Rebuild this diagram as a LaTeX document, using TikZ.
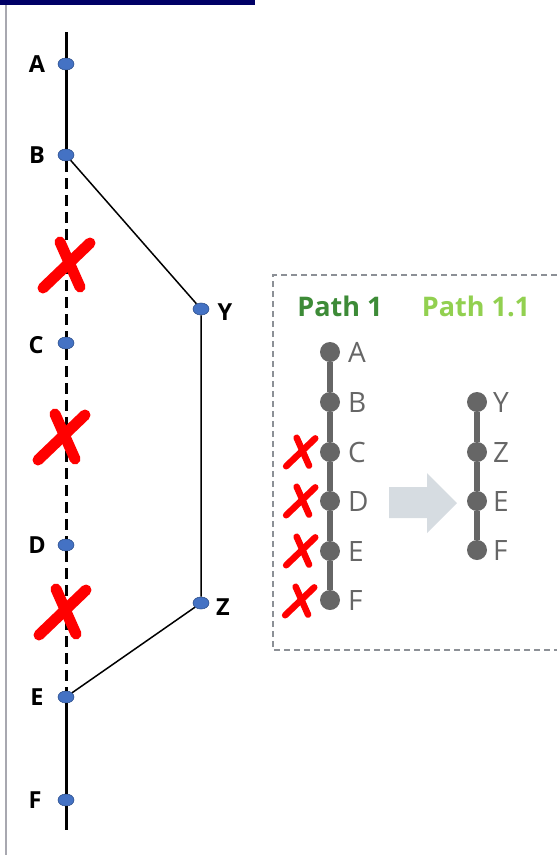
\documentclass[tikz,border=0pt]{standalone}
\usepackage{fontspec}
\newfontfamily\osans{Open Sans}
\usetikzlibrary{shapes.geometric}
\definecolor{navy}{RGB}{0,0,102}
\definecolor{dotblue}{HTML}{4472C4}
\definecolor{dotedge}{HTML}{2F528F}
\definecolor{pathgrey}{HTML}{666666}
\definecolor{darkgreen}{HTML}{3D8B37}
\definecolor{lightgreen}{HTML}{92D050}
\definecolor{arrowgrey}{HTML}{D6DCE1}
\definecolor{boxgrey}{HTML}{8C9096}
\definecolor{leftgrey}{HTML}{A8A8B0}
\definecolor{xred}{HTML}{FF0000}
\begin{document}
\begin{tikzpicture}[x=1pt,y=-1pt,
 bluedot/.style={ellipse, fill=dotblue, draw=dotedge, line width=0.6pt, minimum width=16pt, minimum height=12pt, inner sep=0},
 greydot/.style={circle, fill=pathgrey, minimum size=20pt, inner sep=0},
 lbl/.style={font=\osans\bfseries\fontsize{23.5}{28}\selectfont, inner sep=0, text=black},
 glbl/.style={font=\osans\fontsize{28}{32}\selectfont, text=pathgrey, inner sep=0, anchor=west},
 ptitle/.style={font=\osans\bfseries\fontsize{27}{32}\selectfont, inner sep=0},
 mainline/.style={line width=3pt, black},
 thinline/.style={line width=1.5pt, black},
 greyline/.style={line width=6pt, pathgrey},
 xstroke/.style={xred, line cap=round},
 redx/.pic={\draw[xstroke] (-24,23) -- (23,-22); \draw[xstroke] (-7,-23) -- (13,22);}
]
\useasboundingbox (0,0) rectangle (557,855);
% frame pieces
\fill[navy] (0,0) rectangle (255,4.5);
\draw[leftgrey, line width=2pt] (6,5) -- (6,855);
% left graph
\node[bluedot] (A) at (66,64) {};
\node[bluedot] (B) at (66,155) {};
\node[bluedot] (C) at (66,343) {};
\node[bluedot] (D) at (66,545) {};
\node[bluedot] (E) at (66,697) {};
\node[bluedot] (F) at (66,800) {};
\node[bluedot] (Y) at (201,309) {};
\node[bluedot] (Z) at (201,603) {};
\coordinate (top) at (66,32);
\coordinate (bot) at (66,830);
\draw[mainline] (top) -- (A) -- (B);
\draw[mainline, dash pattern=on 11pt off 6pt] (B) -- (C) -- (D) -- (E);
\draw[mainline] (E) -- (F) -- (bot);
\draw[thinline] (B) -- (Y) -- (Z) -- (E);
\node[lbl] (lA) at (37,64) {A};
\node[lbl] (lB) at (37,155) {B};
\node[lbl] (lC) at (36,345) {C};
\node[lbl] (lD) at (37,545) {D};
\node[lbl] (lE) at (37,697) {E};
\node[lbl] (lF) at (35,800) {F};
\node[lbl] (lY) at (225,312) {Y};
\node[lbl] (lZ) at (223,607) {Z};
\pic[line width=11pt] at (67,265) {redx};
\pic[line width=11pt] at (62,437) {redx};
\pic[line width=11pt] at (63,612) {redx};
% right box
\draw[boxgrey, line width=1.2pt, dash pattern=on 6pt off 4pt] (557,275) -- (273,275) -- (273,650) -- (557,650);
\node[ptitle, text=darkgreen] (p1) at (340,306) {Path 1};
\node[ptitle, text=lightgreen] (p11) at (476,306) {Path 1.1};
\node[greydot] (rA) at (330,352) {};
\node[greydot] (rB) at (330,402) {};
\node[greydot] (rC) at (330,452) {};
\node[greydot] (rD) at (330,501) {};
\node[greydot] (rE) at (330,551) {};
\node[greydot] (rF) at (330,600) {};
\draw[greyline] (rA) -- (rB) -- (rC) -- (rD) -- (rE) -- (rF);
\node[glbl] (tA) at (348,352) {A};
\node[glbl] (tB) at (348,402) {B};
\node[glbl] (tC) at (348,452) {C};
\node[glbl] (tD) at (348,501) {D};
\node[glbl] (tE) at (348,551) {E};
\node[glbl] (tF) at (348,600) {F};
\node[greydot] (sY) at (477,402) {};
\node[greydot] (sZ) at (477,452) {};
\node[greydot] (sE) at (477,501) {};
\node[greydot] (sF) at (477,550) {};
\draw[greyline] (sY) -- (sZ) -- (sE) -- (sF);
\node[glbl] (uY) at (493,402) {Y};
\node[glbl] (uZ) at (493,452) {Z};
\node[glbl] (uE) at (493,501) {E};
\node[glbl] (uF) at (493,550) {F};
\fill[arrowgrey] (389,487) -- (427,487) -- (427,473) -- (457,503) -- (427,533) -- (427,518) -- (389,518) -- cycle;
\pic[scale=0.62, line width=6.5pt] at (301,452) {redx};
\pic[scale=0.62, line width=6.5pt] at (301,501) {redx};
\pic[scale=0.62, line width=6.5pt] at (301,551) {redx};
\pic[scale=0.62, line width=6.5pt] at (300,601) {redx};
\end{tikzpicture}
\end{document}
